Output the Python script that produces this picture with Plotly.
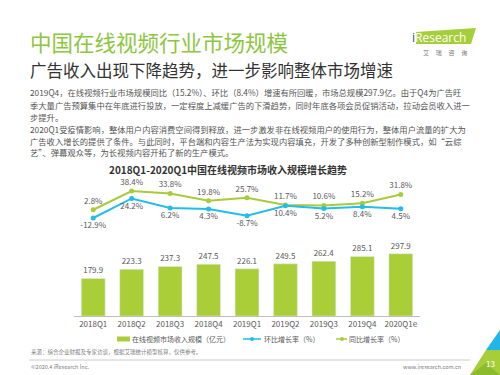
import plotly.graph_objects as go

categories = ["2018Q1", "2018Q2", "2018Q3", "2018Q4", "2019Q1", "2019Q2", "2019Q3", "2019Q4", "2020Q1e"]
revenue = [179.9, 223.3, 237.3, 247.5, 226.1, 249.5, 262.4, 285.1, 297.9]
qoq = [-12.9, 24.2, 6.2, 4.3, -8.7, 10.4, 5.2, 8.4, 4.5]
yoy = [2.8, 38.4, 33.8, 19.8, 25.7, 11.7, 10.6, 15.2, 31.8]

title = "中国在线视频行业市场规模"
subtitle = "广告收入出现下降趋势，进一步影响整体市场增速"
body_lines = [
    "2019Q4，在线视频行业市场规模同比（15.2%）、环比（8.4%）增速有所回暖，市场总规模297.9亿。由于Q4为广告旺",
    "季大量广告预算集中在年底进行投放，一定程度上减缓广告的下滑趋势，同时年底各项会员促销活动，拉动会员收入进一",
    "步提升。",
    "2020Q1受疫情影响，整体用户内容消费空间得到释放，进一步激发非在线视频用户的使用行为，整体用户流量的扩大为",
    "广告收入增长的提供了条件。与此同时，平台端和内容生产法为实现内容填充，开发了多种创新型制作模式，如“云综",
    "艺”、弹幕观众等，为长视频内容开拓了新的生产模式。",
]
chart_title = "2018Q1-2020Q1中国在线视频市场收入规模增长趋势"
legend_names = ["在线视频市场收入规模（亿元）", "环比增长率（%）", "同比增长率（%）"]
source_text = "来源：综合企业财报及专家访谈，根据艾瑞统计模型核算，仅供参考。"
copyright_text = "©2020.4 iResearch Inc."
site_text = "www.iresearch.com.cn"
page_no = "13"

W, H = 500, 375
FONT = "Noto Sans CJK SC"
GREEN_T = "#8DC63F"
BAR = "#A9CE37"
LGREEN = "#A8CB3A"
BLUE = "#22BDEA"
GRAY = "#595959"


def X(px):
    return px / W


def Y(py):
    return 1 - py / H


fig = go.Figure()
fig.add_trace(go.Bar(
    x=categories, y=revenue, marker_color=BAR, width=0.62,
    text=[f"{v:.1f}" for v in revenue], textposition="outside",
    textfont=dict(size=8, color=GRAY, family=FONT), cliponaxis=False,
    name=legend_names[0], showlegend=False, yaxis="y"))
fig.add_trace(go.Scatter(
    x=categories, y=yoy, mode="lines+markers+text", yaxis="y2",
    line=dict(color=LGREEN, width=2), marker=dict(size=5, color=LGREEN),
    text=[f"{v:.1f}%" for v in yoy], textposition="top center",
    textfont=dict(size=8, color=GRAY, family=FONT), cliponaxis=False,
    name=legend_names[2], showlegend=False))
fig.add_trace(go.Scatter(
    x=categories, y=qoq, mode="lines+markers+text", yaxis="y2",
    line=dict(color=BLUE, width=2), marker=dict(size=5, color=BLUE),
    text=[f"{v:.1f}%" for v in qoq], textposition="bottom center",
    textfont=dict(size=8, color=GRAY, family=FONT), cliponaxis=False,
    name=legend_names[1], showlegend=False))

top_px, bot_px = 170, 316
bar_scale = 0.209
line_a, line_b = 211.2, 0.526

annotations = []


def txt(x, y, s, size, color, xanchor="left", bold=False, family=FONT):
    if bold:
        s = "<b>" + s + "</b>"
    annotations.append(dict(x=X(x), y=Y(y), xref="paper", yref="paper", text=s,
                            showarrow=False, xanchor=xanchor, yanchor="middle",
                            font=dict(size=size, color=color, family=family)))


txt(28, 42, title, 21.5, GREEN_T)
txt(28, 70, subtitle, 16.5, "#333333")
for i, (ln, yy) in enumerate(zip(body_lines, [92, 105, 117, 129, 140.5, 152])):
    txt(28, yy, ln, 8.3, "#555555")
txt(228, 169, chart_title, 10, "#333333", xanchor="center", bold=True)

# legend
txt(130, 339, legend_names[0], 7, GRAY)
txt(262, 339, legend_names[1], 7, GRAY)
txt(347, 339, legend_names[2], 7, GRAY)
txt(29, 352, source_text, 5.5, "#808080")
txt(29, 367, copyright_text, 5.5, "#808080")
txt(463, 367, site_text, 5.5, "#808080", xanchor="right")

# logo
txt(410, 37, "<span style='color:#2d4f7c'>i</span>Research", 12, "white", xanchor="left", family="Open Sans")
txt(445, 52.5, "艾     瑞     咨     询", 6, "#777777", xanchor="center")
txt(490, 363, page_no, 8, "white", xanchor="center")

shapes = []


def path(pts, color):
    d = "M " + " L ".join(f"{X(a):.4f},{Y(b):.4f}" for a, b in pts) + " Z"
    shapes.append(dict(type="path", path=d, xref="paper", yref="paper",
                       fillcolor=color, line=dict(width=0), layer="below"))


path([(416, 32), (476, 28), (471, 44), (416, 44)], "#A6CE39")
path([(486, 350), (500, 330), (500, 350)], "#22B5E8")
path([(470, 375), (486, 350), (500, 350), (500, 375)], "#A6CE39")
path([(470, 375), (486, 363), (500, 375)], "#8DBB2E")

shapes.append(dict(type="line", xref="paper", yref="paper", x0=X(29), x1=X(470),
                   y0=Y(360), y1=Y(360), line=dict(color="#cccccc", width=1)))
# legend symbols
shapes.append(dict(type="rect", xref="paper", yref="paper", x0=X(117), x1=X(130),
                   y0=Y(341.5), y1=Y(336.5), fillcolor=BAR, line=dict(width=0)))
shapes.append(dict(type="line", xref="paper", yref="paper", x0=X(243), x1=X(261),
                   y0=Y(339), y1=Y(339), line=dict(color=BLUE, width=1.5)))
shapes.append(dict(type="circle", xref="paper", yref="paper", x0=X(250), x1=X(254),
                   y0=Y(341), y1=Y(337), fillcolor=BLUE, line=dict(width=0)))
shapes.append(dict(type="line", xref="paper", yref="paper", x0=X(336), x1=X(347),
                   y0=Y(339), y1=Y(339), line=dict(color=LGREEN, width=1.5)))
shapes.append(dict(type="circle", xref="paper", yref="paper", x0=X(340), x1=X(344),
                   y0=Y(341), y1=Y(337), fillcolor=LGREEN, line=dict(width=0)))

fig.update_layout(
    width=W, height=H, margin=dict(l=0, r=0, t=0, b=0),
    paper_bgcolor="white", plot_bgcolor="white", showlegend=False,
    font=dict(family=FONT),
    xaxis=dict(domain=[X(74), X(420)], range=[-0.5, 8.5], showline=True,
               linecolor="#bfbfbf", linewidth=1, ticks="", showgrid=False,
               tickfont=dict(size=8, color=GRAY, family=FONT), fixedrange=True),
    yaxis=dict(domain=[Y(bot_px), Y(top_px)], range=[0, (bot_px - top_px) / bar_scale],
               visible=False, showgrid=False),
    yaxis2=dict(domain=[Y(bot_px), Y(top_px)], overlaying="y",
                range=[(line_a - bot_px) / line_b, (line_a - top_px) / line_b],
                visible=False, showgrid=False),
    annotations=annotations, shapes=shapes, bargap=0.38,
)

fig.write_html("out.html", config={"displayModeBar": False},
               post_script="document.body.style.margin='0';document.body.style.overflow='hidden';")
